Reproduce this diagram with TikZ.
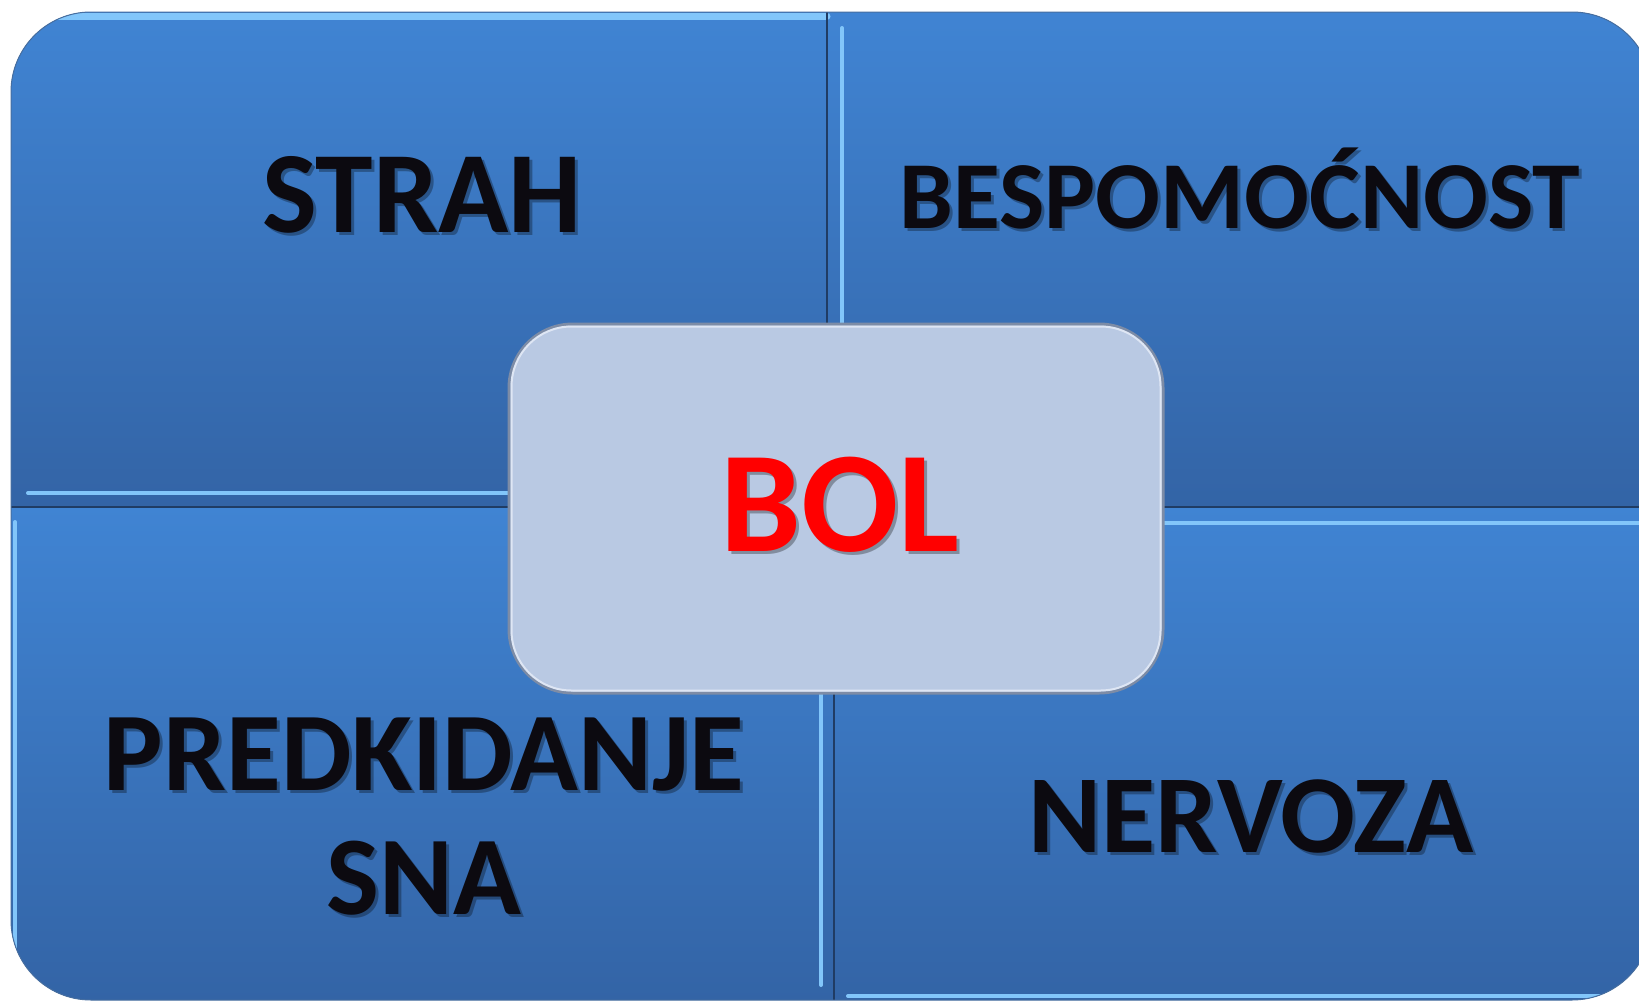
\documentclass[tikz,border=0pt]{standalone}
\usepackage{fontspec}
\setmainfont{Carlito}
\tikzset{every picture/.style={line width=0.75pt}}

\begin{document}
\begin{tikzpicture}[x=0.5pt,y=0.5pt,yscale=-1,xscale=1,
  quad/.style={draw opacity=0, top color={rgb, 255:red, 64; green, 132; blue, 211}, bottom color={rgb, 255:red, 51; green, 100; blue, 166}},
  rim/.style={color={rgb, 255:red, 130; green, 198; blue, 250}, line width=2, line cap=round},
  seam/.style={color={rgb, 255:red, 32; green, 60; blue, 100}, line width=1},
  lbl/.style={anchor=base, inner sep=0pt, color={rgb, 255:red, 12; green, 10; blue, 16}},
  shd/.style={anchor=base, inner sep=0pt, color=black, opacity=0.3}
]
\path [use as bounding box, fill=white] (0,0) rectangle (1639,1001);

\begin{scope}
\clip [rounded corners=40pt] (11,12) rectangle (1652,1000);
%Shape: Rectangle top left
\fill [quad] (11,12) rectangle (827,507);
%Shape: Rectangle top right
\fill [quad] (827,12) rectangle (1652,507);
%Shape: Rectangle bottom left
\fill [quad] (11,507) rectangle (834,1000);
%Shape: Rectangle bottom right
\fill [quad] (834,507) rectangle (1652,1000);
%Straight Lines bevel highlights
\draw [rim, line width=3.5] (11,16) -- (827,16) ;
\draw [rim] (28,493) -- (825,493) ;
\draw [rim] (842,28) -- (842,505) ;
\draw [rim] (15,522) -- (15,1000) ;
\draw [rim] (821,522) -- (821,985) ;
\draw [rim] (848,523) -- (1652,523) ;
\draw [rim] (848,996) -- (1652,996) ;
%Straight Lines seams
\draw [seam] (827,12) -- (827,507) ;
\draw [seam] (834,507) -- (834,1000) ;
\draw [seam] (11,507) -- (1652,507) ;
\end{scope}
%Shape: Rounded Rect outline
\draw [color={rgb, 255:red, 70; green, 110; blue, 160}, line width=0.5, rounded corners=40pt] (11,12) rectangle (1652,1000) ;

%Shape: Rounded Rect centre
\draw (836,508.5) node (bol) [draw={rgb, 255:red, 125; green, 140; blue, 166}, line width=1.5, fill={rgb, 255:red, 185; green, 201; blue, 227}, rounded corners=32pt, minimum width=327pt, minimum height=184.5pt, inner sep=0pt] {} ;
\draw [color={rgb, 255:red, 222; green, 230; blue, 244}, line width=1, rounded corners=30pt] ([shift={(4,4)}]bol.north west) rectangle ([shift={(-4,-4)}]bol.south east) ;

% Text Node
\draw (425,235) node (strah-sh) [shd, font=\bfseries\fontsize{58}{60}\selectfont] {STRAH};
\draw (422,232) node (strah) [lbl, font=\bfseries\fontsize{58}{60}\selectfont] {STRAH};
% Text Node
\draw (1243,231) node (bespomocnost-sh) [shd, font=\bfseries\fontsize{48}{60}\selectfont] {BESPOMOĆNOST};
\draw (1240,228) node (bespomocnost) [lbl, font=\bfseries\fontsize{48}{60}\selectfont] {BESPOMOĆNOST};
% Text Node
\draw (427,720) node (predkidanje-sh) [shd, anchor=north, align=center, font=\bfseries\fontsize{56}{62}\selectfont] {PREDKIDANJE\\SNA};
\draw (424,717) node (predkidanje) [lbl, anchor=north, align=center, font=\bfseries\fontsize{56}{62}\selectfont] {PREDKIDANJE\\SNA};
% Text Node
\draw (1254,855) node (nervoza-sh) [shd, font=\bfseries\fontsize{55.5}{60}\selectfont] {NERVOZA};
\draw (1251,852) node (nervoza) [lbl, font=\bfseries\fontsize{55.5}{60}\selectfont] {NERVOZA};
% Text Node
\draw (843,554) node (bol-sh) [shd, font=\bfseries\fontsize{72}{80}\selectfont] {BOL};
\draw (840,551) node (bol-txt) [lbl, color={rgb, 255:red, 255; green, 0; blue, 0}, font=\bfseries\fontsize{72}{80}\selectfont] {BOL};

\end{tikzpicture}
\end{document}
